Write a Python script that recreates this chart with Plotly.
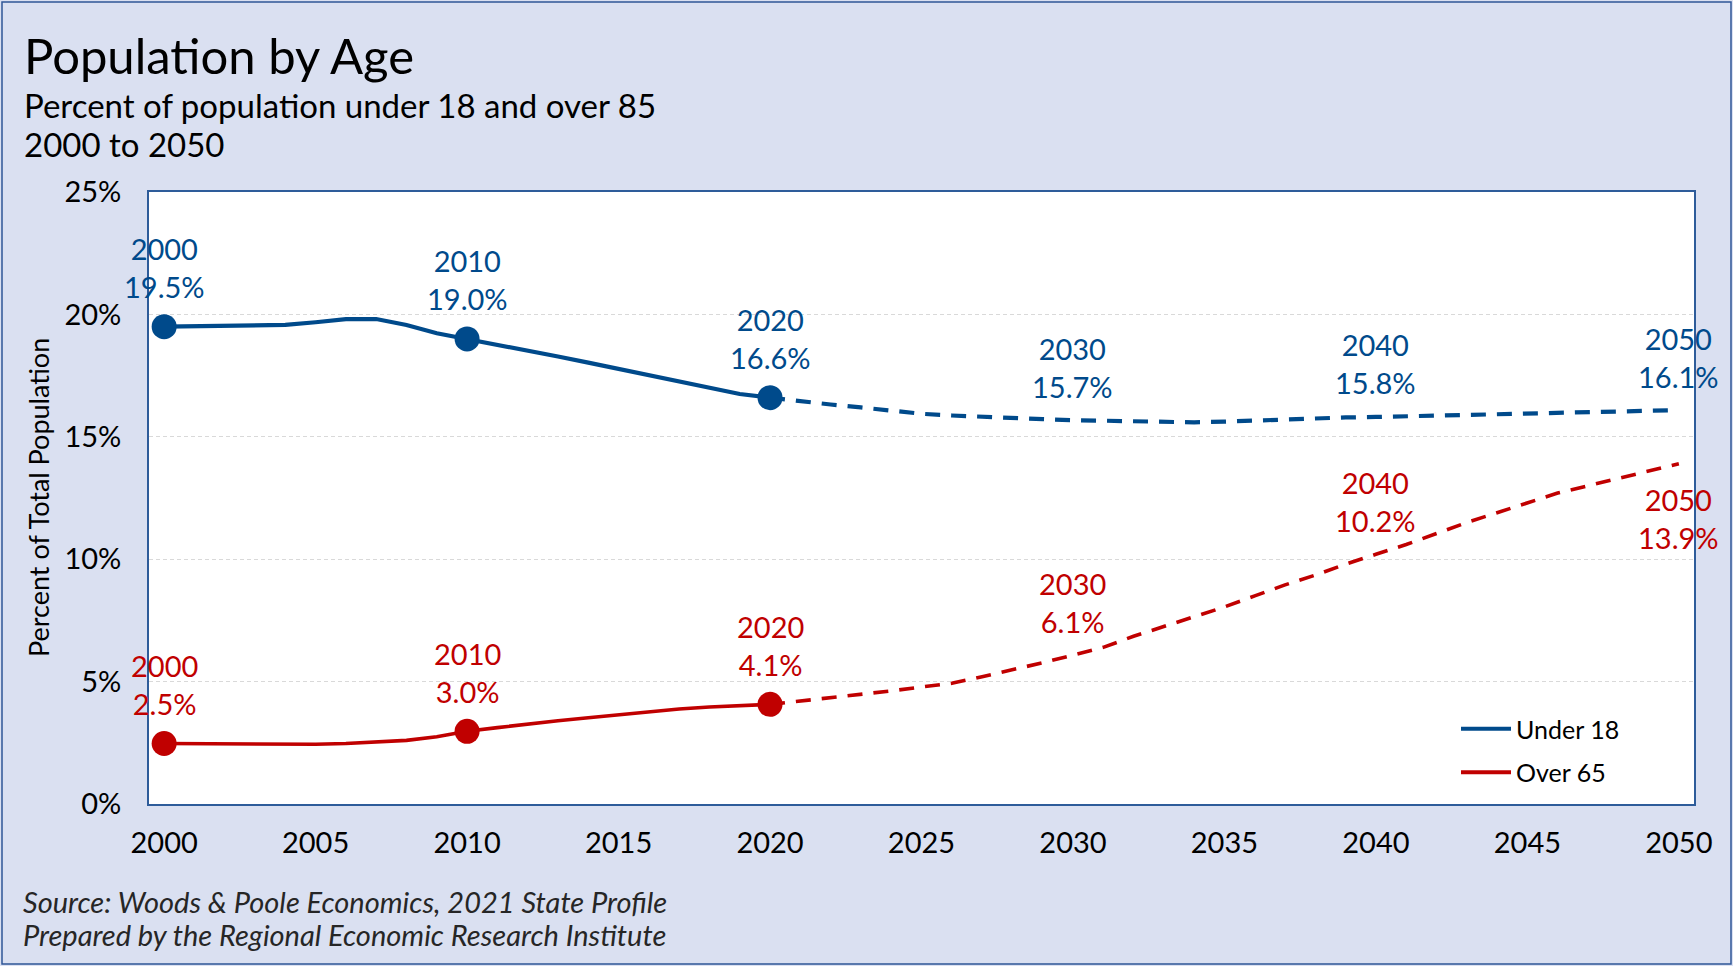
import plotly.graph_objects as go

# ---------------- data ----------------
hist_years = list(range(2000, 2021))
under18_hist = [19.50, 19.52, 19.54, 19.54, 19.57, 19.68, 19.81, 19.81, 19.57, 19.23,
                19.00, 18.78, 18.55, 18.28, 18.03, 17.77, 17.50, 17.24, 16.98, 16.75, 16.60]
over65_hist = [2.47, 2.46, 2.45, 2.45, 2.45, 2.44, 2.47, 2.52, 2.60, 2.75,
               2.97, 3.12, 3.27, 3.40, 3.52, 3.65, 3.76, 3.88, 3.96, 4.03, 4.07]

proj_years = list(range(2020, 2051))
under18_proj = [16.60, 16.45, 16.32, 16.20, 16.06, 15.94, 15.87, 15.81, 15.76, 15.72,
                15.68, 15.65, 15.62, 15.60, 15.59, 15.62, 15.67, 15.72, 15.76, 15.79,
                15.81, 15.84, 15.87, 15.90, 15.93, 15.95, 15.98, 16.00, 16.03, 16.06, 16.09]
over65_proj = [4.07, 4.20, 4.33, 4.47, 4.62, 4.78, 4.93, 5.20, 5.48, 5.77,
               6.08, 6.40, 6.85, 7.25, 7.65, 8.05, 8.50, 8.95, 9.35, 9.80,
               10.20, 10.60, 11.05, 11.50, 11.90, 12.30, 12.70, 13.00, 13.30, 13.60, 13.90]

marker_years = [2000, 2010, 2020]
label_years = [2000, 2010, 2020, 2030, 2040, 2050]
series_names = ["Under 18", "Over 65"]
x_ticks = list(range(2000, 2051, 5))
y_ticks = [0, 5, 10, 15, 20, 25]
y_tick_text = [f"{v}%" for v in y_ticks]

title = "Population by Age"
subtitle_lines = ["Percent of population under 18 and over 85", "2000 to 2050"]
source_lines = ["Source: Woods & Poole Economics, 2021 State Profile",
                "Prepared by the Regional Economic Research Institute"]
y_title = "Percent of Total Population"

# ---------------- style ----------------
BLUE = "#004A8B"
RED = "#C00000"
BG = "#DAE0F1"
FONT = "Lato"
W, H = 1733, 966
ML, MR, MT, MB = 149, 39, 192, 162
PW, PH = W - ML - MR, H - MT - MB


def px_x(p):
    return (p - ML) / PW


def px_y(p):
    return (H - MB - p) / PH


def lookup(years, vals, yr):
    return vals[years.index(yr)]


fig = go.Figure()

series = [
    (series_names[0], BLUE, under18_hist, under18_proj, 4.2),
    (series_names[1], RED, over65_hist, over65_proj, 3.6),
]

for name, color, hist, proj, lw in series:
    fig.add_trace(go.Scatter(x=proj_years, y=proj, mode="lines",
                             line=dict(color=color, width=lw, dash="15px,11px"),
                             showlegend=False, hoverinfo="skip"))
    fig.add_trace(go.Scatter(x=hist_years, y=hist, mode="lines",
                             line=dict(color=color, width=lw),
                             showlegend=False, hoverinfo="skip"))
    fig.add_trace(go.Scatter(x=marker_years,
                             y=[lookup(hist_years, hist, y) for y in marker_years],
                             mode="markers", marker=dict(color=color, size=25),
                             showlegend=False, hoverinfo="skip"))

# legend entries
for name, color, hist, proj, lw in series:
    fig.add_trace(go.Scatter(x=[None], y=[None], mode="lines", name=name,
                             line=dict(color=color, width=4), legendgroup=name))

annotations = []
for name, color, hist, proj, lw in series:
    all_years = hist_years + proj_years[1:]
    all_vals = hist + proj[1:]
    for yr in label_years:
        v = lookup(all_years, all_vals, yr)
        shift = 59 if yr in marker_years else 53
        if name == "Over 65" and yr == 2050:
            shift = -55
        annotations.append(dict(x=yr, y=v, xref="x", yref="y", text=f"{yr}<br>{v:.1f}%",
                                showarrow=False, yshift=shift, yanchor="middle",
                                xanchor="center", align="center",
                                font=dict(family=FONT, size=29, color=color)))

annotations.append(dict(x=px_x(22), y=px_y(55), xref="paper", yref="paper", text=title,
                        showarrow=False, xanchor="left", yanchor="middle",
                        font=dict(family=FONT, size=49, color="#000")))
for line, yp in zip(subtitle_lines, [105, 144]):
    annotations.append(dict(x=px_x(22), y=px_y(yp), xref="paper", yref="paper", text=line,
                            showarrow=False, xanchor="left", yanchor="middle",
                            font=dict(family=FONT, size=33, color="#000")))
for line, yp in zip(source_lines, [902, 935]):
    annotations.append(dict(x=px_x(21), y=px_y(yp), xref="paper", yref="paper",
                            text=f"<i>{line}</i>", showarrow=False,
                            xanchor="left", yanchor="middle",
                            font=dict(family=FONT, size=29, color="#262626")))
annotations.append(dict(x=px_x(38), y=0.5, xref="paper", yref="paper", text=y_title,
                        showarrow=False, textangle=-90, xanchor="center", yanchor="middle",
                        font=dict(family=FONT, size=27, color="#000")))

fig.update_layout(
    width=W, height=H, autosize=False,
    margin=dict(l=ML, r=MR, t=MT, b=MB),
    paper_bgcolor=BG, plot_bgcolor="white",
    annotations=annotations,
    showlegend=True,
    legend=dict(x=px_x(1456), y=px_y(706), xanchor="left", yanchor="top",
                bgcolor="rgba(0,0,0,0)", font=dict(family=FONT, size=25, color="#000"),
                itemwidth=50, tracegroupgap=8),
    shapes=[dict(type="rect", xref="paper", yref="paper",
                 x0=px_x(2), x1=px_x(1731), y0=px_y(964), y1=px_y(2),
                 line=dict(color="#2F5597", width=1.5), layer="below")],
)

fig.update_xaxes(range=[1999.5, 2050.5], tickvals=x_ticks, showgrid=False,
                 showline=True, linecolor="#2E5C9A", linewidth=1.8, mirror=True,
                 ticks="", ticklabelstandoff=12, zeroline=False,
                 tickfont=dict(family=FONT, size=29, color="#000"))
fig.update_yaxes(range=[0, 25], tickvals=y_ticks, ticktext=y_tick_text, tickmode="array",
                 showgrid=True, gridcolor="#D9D9D9", gridwidth=1, griddash="4px,3px",
                 showline=True, linecolor="#2E5C9A", linewidth=1.8, mirror=True,
                 ticks="", ticklabelstandoff=20, zeroline=False,
                 tickfont=dict(family=FONT, size=29, color="#000"))

for tr in fig.data:
    tr.cliponaxis = False

fig.write_html("out.html", config={"displayModeBar": False},
               post_script="document.body.style.margin='0px';document.body.style.overflow='hidden';")
